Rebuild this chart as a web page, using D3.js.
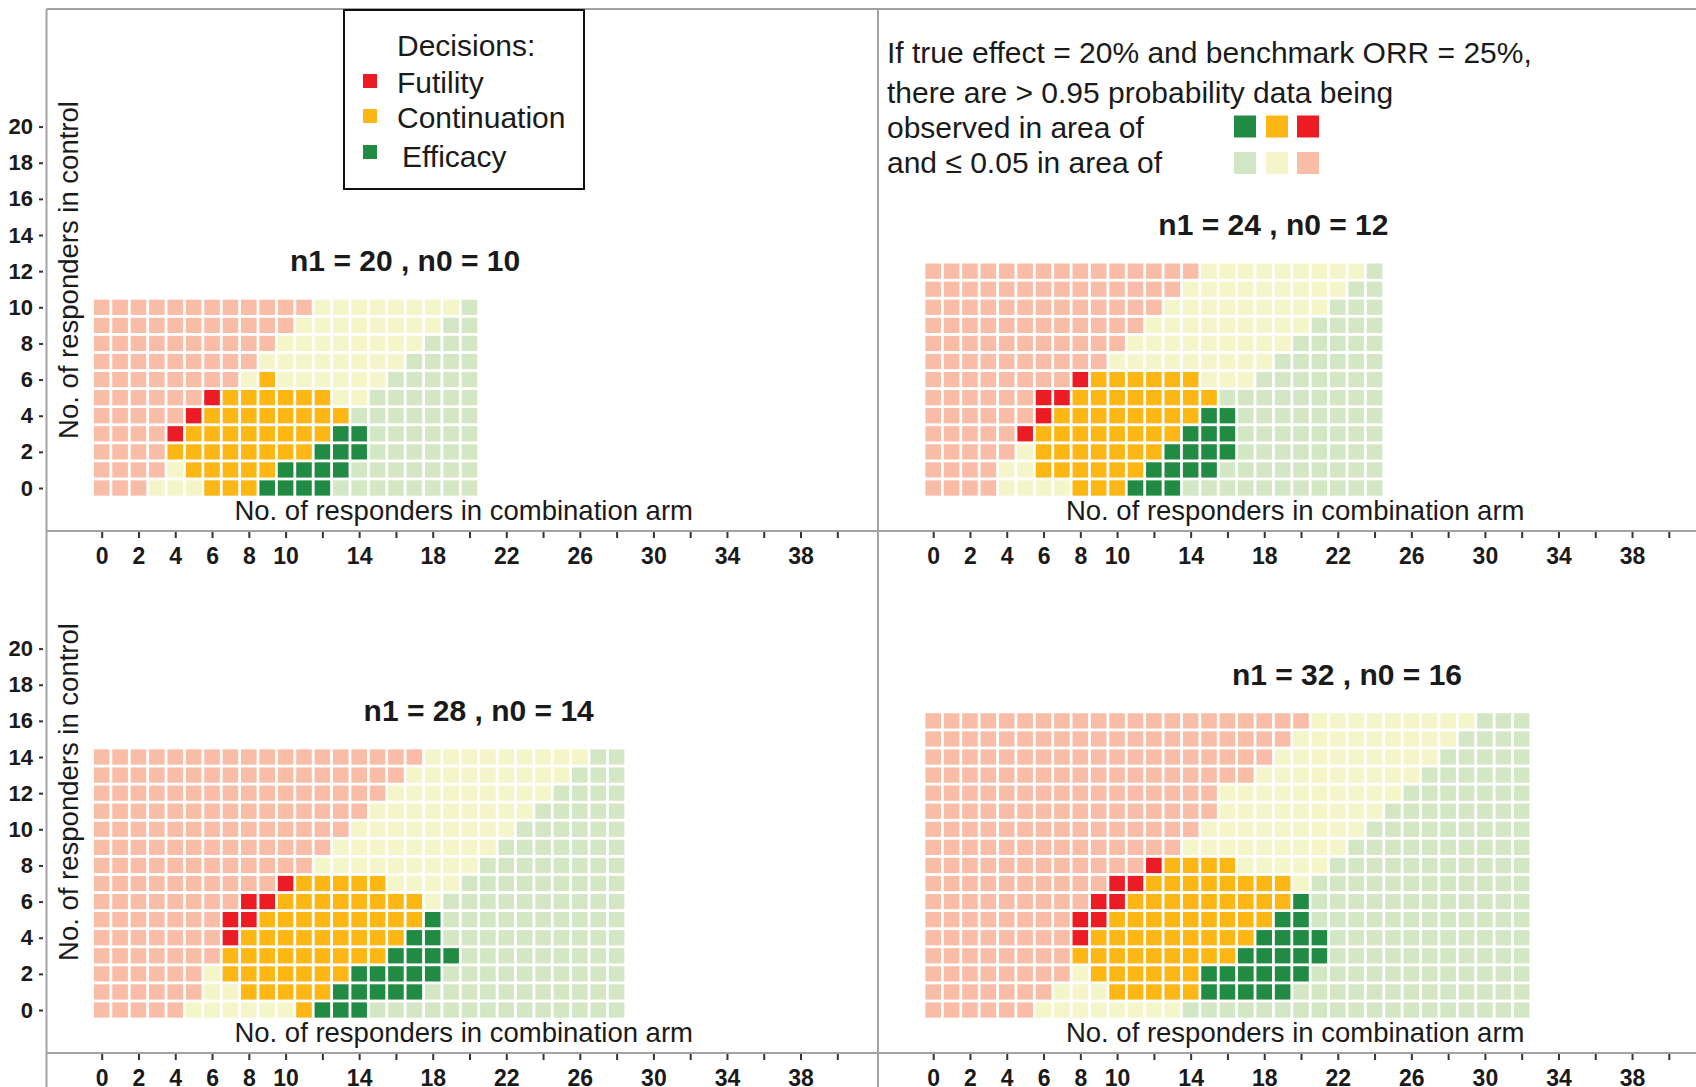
<!DOCTYPE html>
<html>
<head>
<meta charset="utf-8">
<script src="https://cdnjs.cloudflare.com/ajax/libs/d3/7.8.5/d3.min.js"></script>
<style>
  body { margin: 0; background: #fff; }
  svg { display: block; font-family: "Liberation Sans", Arial, Helvetica, sans-serif; }
</style>
</head>
<body>
<div id="chart"></div>
<script>
// sample sizes per panel
const armSizes = [20, 24, 28, 32];      // n1, combination arm
const controlSizes = [10, 12, 14, 16];  // n0, control

// one entry per row of control responders (0 upward), run-length coded
// f/c/e = faint futility/continuation/efficacy, F/C/E = decision areas
const grid20 = [
  "f3 c3 C3 E4 e8", "f4 c1 C5 E4 e7", "f4 C8 E3 e6", "f4 F1 C8 E2 e6",
  "f5 F1 C8 e7", "f6 F1 C6 c2 e6", "f8 c1 C1 c6 e5", "f9 c8 e4",
  "f10 c8 e3", "f11 c8 e2", "f12 c8 e1"
];
const grid24 = [
  "f4 c4 C3 E3 e11", "f4 c2 C6 E4 e9", "f5 c1 C7 E4 e8", "f5 F1 C8 E3 e8",
  "f6 F1 C8 E2 e8", "f6 F2 C8 e9", "f8 F1 C6 c3 e7", "f10 c9 e6",
  "f11 c9 e5", "f12 c9 e4", "f13 c9 e3", "f14 c9 e2", "f15 c9 e1"
];
const grid28 = [
  "f5 c6 C1 E3 e14", "f6 c2 C5 E5 e11", "f6 c1 C7 E5 e10", "f7 C9 E4 e9",
  "f7 F1 C9 E2 e10", "f7 F2 C9 E1 e10", "f8 F2 C8 c1 e10", "f10 F1 C5 c4 e9",
  "f12 c9 e8", "f13 c9 e7", "f14 c9 e6", "f15 c9 e5", "f16 c9 e4",
  "f17 c9 e3", "f18 c9 e2"
];
const grid32 = [
  "f6 c8 e19", "f7 c3 C5 E5 e13", "f8 c1 C6 E6 e12", "f8 C9 E5 e11",
  "f8 F1 C9 E4 e11", "f8 F2 C9 E2 e12", "f9 F2 C9 E1 e12", "f10 F2 C8 c1 e12",
  "f12 F1 C4 c5 e11", "f14 c9 e10", "f15 c9 e9", "f16 c9 e8", "f16 c10 e7",
  "f18 c9 e6", "f19 c9 e5", "f20 c9 e4", "f21 c9 e3"
];
const grids = [grid20, grid24, grid28, grid32];

const xTicks = d3.range(0, 41, 2);
const xTickLabels = [0, 2, 4, 6, 8, 10, 14, 18, 22, 26, 30, 34, 38];
const yTicks = [0, 2, 4, 6, 8, 10, 12, 14, 16, 18, 20];

const legendLabels = ["Futility", "Continuation", "Efficacy"];
const noteLines = [
  "If true effect = 20% and benchmark ORR = 25%,",
  "there are > 0.95 probability data being",
  "observed in area of",
  "and \u2264 0.05 in area of"
];

const colors = {
  f: "#f9bca6", c: "#f4f5c9", e: "#d3e7c5",
  F: "#ec1c24", C: "#fdb714", E: "#218b43"
};

const W = 1696, H = 1087;
const frameLeft = 46.5, frameTop = 9;
const panelW = 831.5, panelH = 522;
const unitX = 18.39, unitY = 18.07;

const svg = d3.select("#chart").append("svg")
  .attr("width", W).attr("height", H);

// panel frame lines
const lineColor = "#a3a3a3";
const frame = svg.append("g").attr("stroke", lineColor).attr("stroke-width", 2);
[frameTop, frameTop + panelH, frameTop + 2 * panelH].forEach(yy => {
  frame.append("line").attr("x1", frameLeft).attr("x2", W).attr("y1", yy).attr("y2", yy);
});
[frameLeft, frameLeft + panelW].forEach(xx => {
  frame.append("line").attr("x1", xx).attr("x2", xx).attr("y1", frameTop).attr("y2", H);
});

grids.forEach((rows, k) => {
  const col = k % 2, row = Math.floor(k / 2);
  const left = frameLeft + col * panelW, top = frameTop + row * panelH;

  const x = d3.scaleLinear().domain([0, 40]).range([left + 55.2, left + 55.2 + 40 * unitX]);
  const y = d3.scaleLinear().domain([0, 20]).range([top + 479, top + 479 - 20 * unitY]);

  // expand the run-length rows into cells
  let cells = [];
  rows.forEach((runs, j) => {
    let i = 0;
    runs.split(" ").forEach(r => {
      const code = r[0], n = +r.slice(1);
      for (let t = 0; t < n; t++) cells.push({ i: i++, j: j, code: code });
    });
    if (i !== armSizes[k] + 1) console.warn("row length", k, j, i);
  });

  const cw = unitX - 2.8, ch = unitY - 2.8;
  const g = svg.append("g");
  g.selectAll("rect")
    .data(cells)
    .enter()
    .append("rect")
    .attr("x", d => x(d.i) - cw / 2)
    .attr("y", d => y(d.j) - ch / 2)
    .attr("width", cw)
    .attr("height", ch)
    .attr("fill", d => colors[d.code]);

  // panel title
  svg.append("text")
    .attr("x", x(armSizes[k] / 2 + 6.5))
    .attr("y", y(controlSizes[k]) - 36)
    .attr("text-anchor", "middle")
    .attr("font-size", 30)
    .attr("font-weight", "bold")
    .attr("fill", "#1a1a1a")
    .text("n1 = " + armSizes[k] + " , n0 = " + controlSizes[k]);

  // x axis title
  svg.append("text")
    .attr("x", left + 55.2 + 362)
    .attr("y", top + 511)
    .attr("text-anchor", "middle")
    .attr("font-size", 27.5)
    .attr("fill", "#1a1a1a")
    .text("No. of responders in combination arm");

  // x axis below the panel line
  const xAxis = d3.axisBottom(x)
    .tickValues(xTicks)
    .tickSize(6)
    .tickPadding(10)
    .tickFormat(d => xTickLabels.includes(d) ? d : "");
  const ax = svg.append("g")
    .attr("transform", "translate(0," + (top + panelH + 1) + ")")
    .call(xAxis);
  ax.select(".domain").remove();
  ax.selectAll("line").attr("stroke", "#333").attr("stroke-width", 2);
  ax.selectAll("text")
    .attr("font-size", 23).attr("font-weight", "bold")
    .attr("font-family", "'Liberation Sans', Arial, sans-serif")
    .attr("fill", "#1a1a1a");

  if (col === 0) {
    const yAxis = d3.axisLeft(y)
      .tickValues(yTicks)
      .tickSize(4)
      .tickPadding(6);
    const ay = svg.append("g")
      .attr("transform", "translate(" + (left - 3.5) + ",0)")
      .call(yAxis);
    ay.select(".domain").remove();
    ay.selectAll("line").attr("stroke", "#333").attr("stroke-width", 2);
    ay.selectAll("text")
      .attr("font-size", 22).attr("font-weight", "bold")
      .attr("font-family", "'Liberation Sans', Arial, sans-serif")
      .attr("fill", "#1a1a1a");

    svg.append("text")
      .attr("transform", "translate(" + (left + 21.5) + "," + (top + 261) + ") rotate(-90)")
      .attr("text-anchor", "middle")
      .attr("dy", "0.36em")
      .attr("font-size", 27.5)
      .attr("fill", "#1a1a1a")
      .text("No. of responders in control");
  }
});

// decision legend
const leg = svg.append("g");
leg.append("rect")
  .attr("x", 344).attr("y", 10).attr("width", 240).attr("height", 179)
  .attr("fill", "#fff").attr("stroke", "#111").attr("stroke-width", 2);
leg.append("text")
  .attr("x", 397).attr("y", 56)
  .attr("font-size", 30).attr("fill", "#1a1a1a")
  .text("Decisions:");
const legY = [81, 116, 152];
const legTextY = [93, 128, 167];
const legTextX = [397, 397, 402];
["F", "C", "E"].forEach((code, i) => {
  leg.append("rect")
    .attr("x", 363).attr("y", legY[i] - 7).attr("width", 14).attr("height", 14)
    .attr("fill", colors[code]);
  leg.append("text")
    .attr("x", legTextX[i]).attr("y", legTextY[i])
    .attr("font-size", 30).attr("fill", "#1a1a1a")
    .text(legendLabels[i]);
});

// probability note, top right
const note = svg.append("g");
const noteY = [63, 103, 138, 173];
noteLines.forEach((t, i) => {
  note.append("text")
    .attr("x", 887).attr("y", noteY[i])
    .attr("font-size", 30).attr("fill", "#1a1a1a")
    .text(t);
});
const swatchX = [1234, 1266, 1297];
[["E", "C", "F"], ["e", "c", "f"]].forEach((codes, r) => {
  codes.forEach((code, i) => {
    note.append("rect")
      .attr("x", swatchX[i]).attr("y", (r === 0 ? 126.5 : 163) - 11)
      .attr("width", 22).attr("height", 22)
      .attr("fill", colors[code]);
  });
});
</script>
</body>
</html>
